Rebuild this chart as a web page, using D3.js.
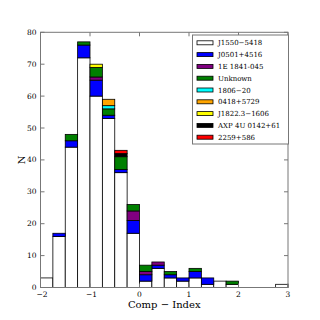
<!DOCTYPE html>
<html>
<head>
<meta charset="utf-8">
<script src="https://cdn.jsdelivr.net/npm/d3@7"></script>
<style>
  body { margin: 0; background: #fff; }
  svg { display: block; }
</style>
</head>
<body>
<div id="chart"></div>
<script>
// Bin edges: -2 to 3 in steps of 0.25
const binStart = [-2, -1.75, -1.5, -1.25, -1, -0.75, -0.5, -0.25, 0, 0.25,
                  0.5, 0.75, 1, 1.25, 1.5, 1.75, 2, 2.25, 2.5, 2.75];
const binWidth = 0.25;

// Series, bottom to top of the stack
const seriesNames = ["J1550\u22125418", "J0501+4516", "1E 1841-045", "Unknown", "1806\u221220",
                     "0418+5729", "J1822.3\u22121606", "AXP 4U 0142+61", "2259+586"];
const seriesColors = ["#ffffff", "#0000ff", "#800080", "#008000", "#00ffff",
                      "#ffa500", "#ffff00", "#000000", "#ff0000"];

const j1550   = [3, 16, 44, 72, 60, 53, 36, 17, 2, 6, 3, 2, 3, 1, 2, 1, 0, 0, 0, 1];
const j0501   = [0, 1, 2, 4, 5, 1, 1, 4, 2, 1, 1, 1, 2, 2, 0, 0, 0, 0, 0, 0];
const e1841   = [0, 0, 0, 0, 1, 0, 0, 3, 1, 1, 0, 0, 0, 0, 0, 0, 0, 0, 0, 0];
const unknown = [0, 0, 2, 1, 3, 2, 4, 2, 2, 0, 1, 0, 1, 0, 0, 1, 0, 0, 0, 0];
const s1806   = [0, 0, 0, 0, 0, 1, 0, 0, 0, 0, 0, 0, 0, 0, 0, 0, 0, 0, 0, 0];
const s0418   = [0, 0, 0, 0, 0, 2, 0, 0, 0, 0, 0, 0, 0, 0, 0, 0, 0, 0, 0, 0];
const j1822   = [0, 0, 0, 0, 1, 0, 0, 0, 0, 0, 0, 0, 0, 0, 0, 0, 0, 0, 0, 0];
const axp0142 = [0, 0, 0, 0, 0, 0, 1, 0, 0, 0, 0, 0, 0, 0, 0, 0, 0, 0, 0, 0];
const s2259   = [0, 0, 0, 0, 0, 0, 1, 0, 0, 0, 0, 0, 0, 0, 0, 0, 0, 0, 0, 0];
const seriesValues = [j1550, j0501, e1841, unknown, s1806, s0418, j1822, axp0142, s2259];

const xTicks = [-2, -1, 0, 1, 2, 3];
const yTicks = [0, 10, 20, 30, 40, 50, 60, 70, 80];

const width = 320, height = 320;
const m = { left: 40.5, right: 288, top: 32.3, bottom: 287.5 };
const font = "'DejaVu Serif', serif";

const x = d3.scaleLinear().domain([-2, 3]).range([m.left, m.right]);
const y = d3.scaleLinear().domain([0, 80]).range([m.bottom, m.top]);

const svg = d3.select("#chart").append("svg")
  .attr("width", width)
  .attr("height", height);

// Stack the series
const table = binStart.map((b, i) => {
  const row = { x0: b };
  seriesNames.forEach((n, k) => row[n] = seriesValues[k][i]);
  return row;
});
const stacked = d3.stack().keys(seriesNames)(table);

svg.append("g")
  .selectAll("g")
  .data(stacked)
  .join("g")
    .attr("fill", (d, k) => seriesColors[k])
    .attr("stroke", "#000")
    .attr("stroke-width", 0.8)
  .selectAll("rect")
  .data((d, k) => d.filter(p => k === 0 || p[1] > p[0]))
  .join("rect")
    .attr("x", d => x(d.data.x0))
    .attr("width", d => x(d.data.x0 + binWidth) - x(d.data.x0))
    .attr("y", d => y(d[1]))
    .attr("height", d => y(d[0]) - y(d[1]));

// Frame
svg.append("rect")
  .attr("x", m.left).attr("y", m.top)
  .attr("width", m.right - m.left).attr("height", m.bottom - m.top)
  .attr("fill", "none").attr("stroke", "#777").attr("stroke-width", 1);

// Inward ticks on all sides
const tickLen = 4;
const ticks = svg.append("g").attr("stroke", "#777").attr("stroke-width", 1);
xTicks.forEach(t => {
  ticks.append("line").attr("x1", x(t)).attr("x2", x(t)).attr("y1", m.bottom).attr("y2", m.bottom - tickLen);
  ticks.append("line").attr("x1", x(t)).attr("x2", x(t)).attr("y1", m.top).attr("y2", m.top + tickLen);
});
yTicks.forEach(t => {
  ticks.append("line").attr("x1", m.left).attr("x2", m.left + tickLen).attr("y1", y(t)).attr("y2", y(t));
  ticks.append("line").attr("x1", m.right).attr("x2", m.right - tickLen).attr("y1", y(t)).attr("y2", y(t));
});

// Tick labels
svg.append("g")
  .selectAll("text")
  .data(xTicks)
  .join("text")
    .attr("x", d => x(d) + (d < 0 ? 1.5 : 0))
    .attr("y", 296.5)
    .attr("text-anchor", "middle")
    .style("font", `7.5px ${font}`)
    .text(d => d < 0 ? "\u2212" + Math.abs(d) : d);

svg.append("g")
  .selectAll("text")
  .data(yTicks)
  .join("text")
    .attr("x", 36.5)
    .attr("y", d => y(d) + 2.5)
    .attr("text-anchor", "end")
    .style("font", `7.5px ${font}`)
    .text(d => d);

// Axis labels
svg.append("text")
  .attr("x", (m.left + m.right) / 2)
  .attr("y", 308)
  .attr("text-anchor", "middle")
  .style("font", `10px ${font}`)
  .text("Comp \u2212 Index");

svg.append("text")
  .attr("transform", `translate(24.5,${(m.top + m.bottom) / 2}) rotate(-90)`)
  .attr("text-anchor", "middle")
  .style("font", `10px ${font}`)
  .text("N");

// Legend
const legend = svg.append("g");
legend.append("rect")
  .attr("x", 192.5).attr("y", 35)
  .attr("width", 96).attr("height", 109)
  .attr("fill", "#fff").attr("stroke", "#777").attr("stroke-width", 1);

const item = legend.selectAll("g.item")
  .data(seriesNames)
  .join("g")
    .attr("class", "item")
    .attr("transform", (d, i) => `translate(197,${42.8 + i * 11.8})`);

item.append("rect")
  .attr("x", 0).attr("y", -2)
  .attr("width", 16).attr("height", 4)
  .attr("fill", (d, i) => seriesColors[i])
  .attr("stroke", "#000").attr("stroke-width", 0.8);

item.append("text")
  .attr("x", 21)
  .attr("y", 2.5)
  .style("font", `7px ${font}`)
  .text(d => d);
</script>
</body>
</html>
